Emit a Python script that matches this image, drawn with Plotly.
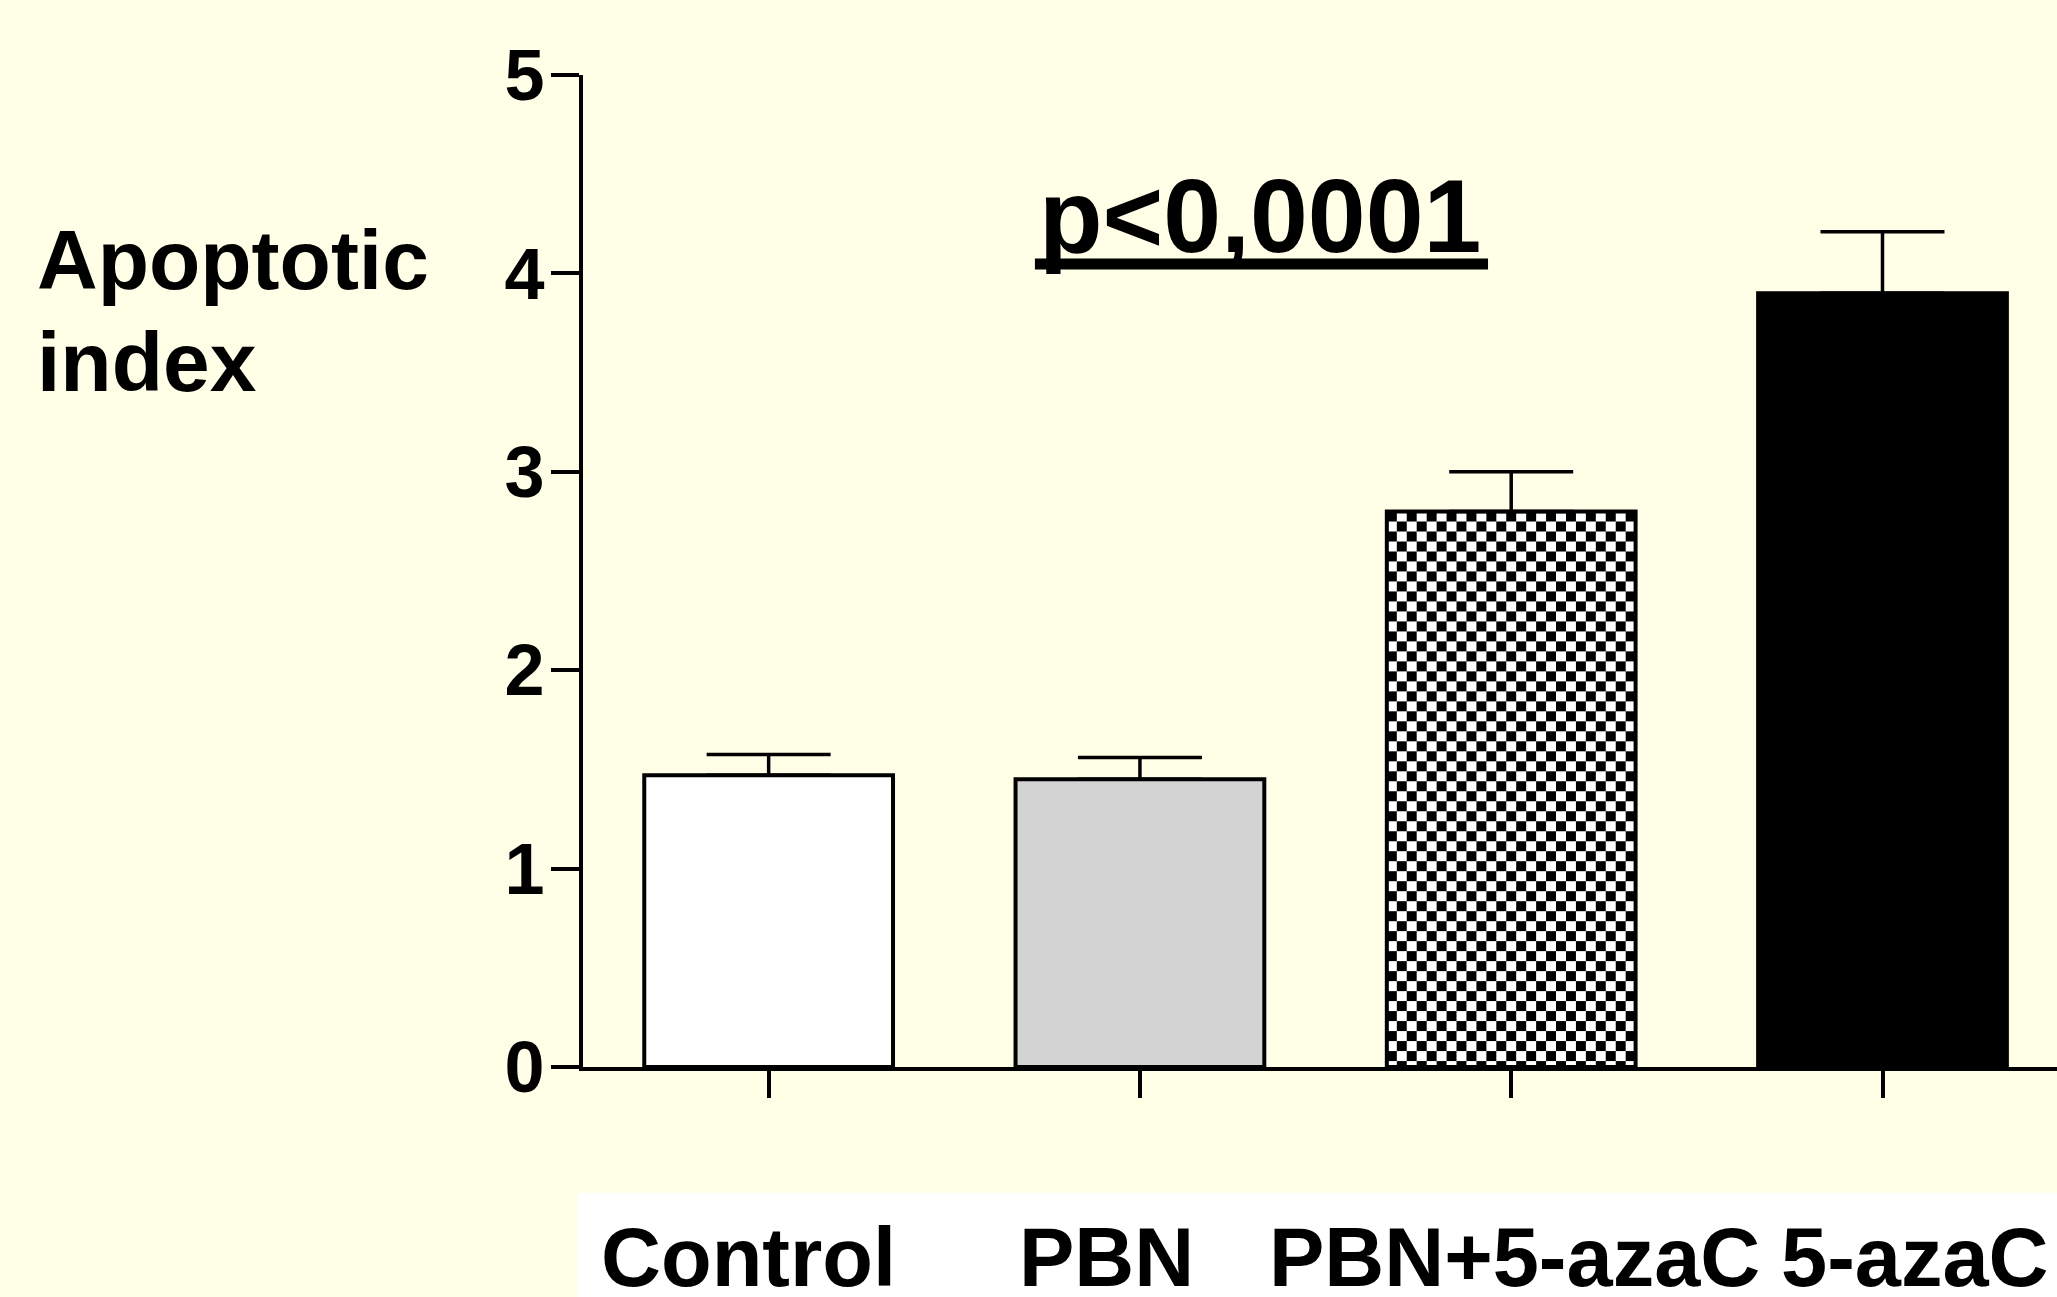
import base64
import struct
import zlib

import plotly.graph_objects as go

categories = ["Control", "PBN", "PBN+5-azaC", "5-azaC"]
values = [1.47, 1.45, 2.80, 3.90]
errors = [0.105, 0.11, 0.20, 0.31]
y_ticks = [0, 1, 2, 3, 4, 5]
y_title_lines = ["Apoptotic", "index"]
p_text = "p&lt;0,0001"

fills = ["#FFFFFF", "#D3D3D3", "rgba(0,0,0,0)", "#000000"]
checker_index = 2  # bar drawn with a checkerboard fill

FONT = "Liberation Sans, Arial, sans-serif"
BG = "#FFFFE8"
BARGAP = 0.33


def checker_png(w, h, cell):
    raw = bytearray()
    for yy in range(h):
        raw.append(0)
        for xx in range(w):
            raw.append(0 if ((xx // cell + yy // cell) % 2 == 0) else 255)

    def chunk(tag, data):
        c = struct.pack(">I", len(data)) + tag + data
        return c + struct.pack(">I", zlib.crc32(tag + data) & 0xFFFFFFFF)

    png = b"\x89PNG\r\n\x1a\n"
    png += chunk(b"IHDR", struct.pack(">IIBBBBB", w, h, 8, 0, 0, 0, 0))
    png += chunk(b"IDAT", zlib.compress(bytes(raw), 9))
    png += chunk(b"IEND", b"")
    return "data:image/png;base64," + base64.b64encode(png).decode()


fig = go.Figure()
fig.add_trace(go.Bar(
    x=list(range(len(categories))),
    y=values,
    marker=dict(color=fills, line=dict(color="black", width=4)),
    error_y=dict(type="data", array=errors, arrayminus=[0] * len(errors),
                 symmetric=False, color="black", thickness=3.5, width=62),
    showlegend=False,
))

bw = 1 - BARGAP
fig.add_layout_image(
    source=checker_png(250, 556, 10),
    xref="x", yref="y",
    x=checker_index - bw / 2, y=values[checker_index],
    sizex=bw, sizey=values[checker_index],
    xanchor="left", yanchor="top", sizing="stretch", layer="below",
)

fig.update_layout(
    width=2057, height=1297,
    margin=dict(l=583, r=0, t=75, b=230),
    paper_bgcolor=BG, plot_bgcolor=BG,
    bargap=BARGAP,
    font=dict(family=FONT, color="black"),
    xaxis=dict(
        range=[-0.5, 3.47], tickvals=list(range(len(categories))),
        showticklabels=False, ticks="outside", ticklen=27, tickwidth=4,
        tickcolor="black", showline=True, linewidth=4, linecolor="black",
        showgrid=False, zeroline=False, fixedrange=True,
    ),
    yaxis=dict(
        range=[0, 5], tickvals=y_ticks, ticks="outside", ticklen=28,
        tickwidth=4, tickcolor="black", showline=True, linewidth=4,
        linecolor="black", showgrid=False, zeroline=False,
        tickfont=dict(size=72, family=FONT, color="black", weight="bold"),
        ticklabelstandoff=-8,
    ),
)

# white band behind category labels
fig.add_shape(type="rect", xref="paper", yref="paper",
              x0=-0.004, x1=1.0, y0=-0.235, y1=-0.127,
              fillcolor="white", line=dict(width=0), layer="below")

label_shifts = [-20, -33, 3, 32]
for i, (cat, sh) in enumerate(zip(categories, label_shifts)):
    fig.add_annotation(x=i, xref="x", y=-0.143, yref="paper",
                       text=f"<b>{cat}</b>", showarrow=False,
                       xanchor="center", yanchor="top", xshift=sh,
                       font=dict(size=83, family=FONT, color="black"))

for line, yy in zip(y_title_lines, [0.863, 0.760]):
    fig.add_annotation(x=-0.3718, xref="paper", y=yy, yref="paper",
                       text=f"<b>{line}</b>", showarrow=False,
                       xanchor="left", yanchor="top",
                       font=dict(size=84, family=FONT, color="black"))

fig.add_annotation(x=0.459, xref="paper", y=0.918, yref="paper",
                   text=f"<b>{p_text}</b>", showarrow=False,
                   xanchor="center", yanchor="top",
                   font=dict(size=104, family=FONT, color="black"))
# underline of the p-value label
fig.add_shape(type="line", xref="paper", yref="paper",
              x0=0.3066, x1=0.614, y0=0.8095, y1=0.8095,
              line=dict(color="black", width=11))

fig.write_html("out.html")
